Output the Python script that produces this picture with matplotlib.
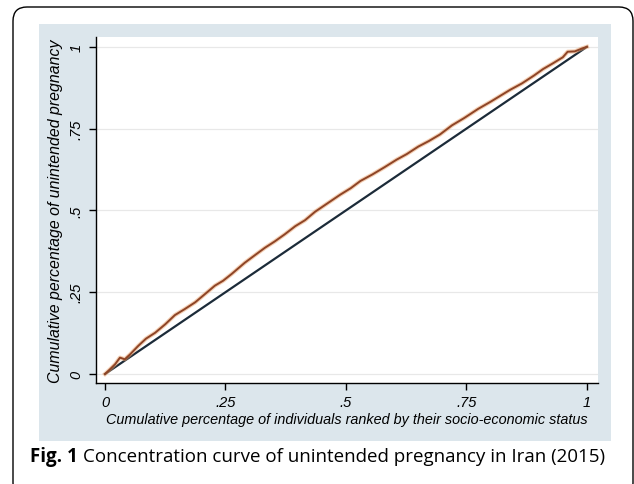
import matplotlib.pyplot as plt
from matplotlib.patches import FancyBboxPatch, Rectangle

# concentration curve
rank = [0.000, 0.010, 0.021, 0.031, 0.041, 0.052, 0.069, 0.085, 0.104, 0.125,
        0.145, 0.165, 0.187, 0.208, 0.228, 0.245, 0.263, 0.290, 0.310, 0.332,
        0.352, 0.373, 0.395, 0.415, 0.436, 0.460, 0.488, 0.510, 0.530, 0.555,
        0.580, 0.605, 0.626, 0.650, 0.672, 0.695, 0.720, 0.745, 0.774, 0.800,
        0.820, 0.840, 0.865, 0.890, 0.909, 0.930, 0.950, 0.960, 0.975, 0.990,
        1.000]
cum_preg = [0.000, 0.014, 0.030, 0.050, 0.045, 0.060, 0.086, 0.108, 0.126, 0.152,
            0.180, 0.198, 0.219, 0.245, 0.270, 0.285, 0.306, 0.340, 0.362, 0.386,
            0.405, 0.427, 0.452, 0.470, 0.496, 0.520, 0.548, 0.568, 0.590, 0.610,
            0.632, 0.655, 0.672, 0.695, 0.712, 0.732, 0.760, 0.782, 0.810, 0.832,
            0.850, 0.868, 0.888, 0.912, 0.932, 0.950, 0.968, 0.985, 0.986, 0.995,
            1.000]

# line of equality
eq_x = [0, 1]
eq_y = [0, 1]

ticks = [0, 0.25, 0.5, 0.75, 1]
tick_labels = ['0', '.25', '.5', '.75', '1']

W, H = 634, 485
fig = plt.figure(figsize=(W / 100, H / 100), dpi=100)

# background layer in pixel units
bg = fig.add_axes([0, 0, 1, 1])
bg.set_xlim(0, W)
bg.set_ylim(H, 0)
bg.axis('off')
bg.add_patch(FancyBboxPatch((13, 8), 620, 490, boxstyle='round,pad=0,rounding_size=14',
                            fc='white', ec='black', lw=1.0))
bg.add_patch(Rectangle((39, 25), 572, 417, fc='#dce6ec', ec='none'))

ax = fig.add_axes([96 / W, 1 - 384 / H, (598 - 96) / W, (384 - 38) / H])
ax.set_facecolor('white')
ax.set_xlim(-0.0187, 1.023)
ax.set_ylim(-0.0275, 1.03)

ax.plot(eq_x, eq_y, color='#1c2b39', lw=1.6, zorder=3)
ax.plot(rank, cum_preg, color='#e9a06a', lw=3.0, alpha=0.5, zorder=4)
ax.plot(rank, cum_preg, color='#8e4426', lw=1.4, zorder=5)

ax.set_yticks(ticks)
ax.set_xticks(ticks)
tfont = dict(family='Liberation Sans', style='italic', size=10.5)
ax.set_xticklabels(tick_labels, fontdict=tfont)
ax.set_yticklabels(tick_labels, fontdict=tfont, rotation=90, va='center')
ax.tick_params(direction='out', length=5, width=1, color='black', pad=4)
ax.grid(axis='y', color='#e8e8e8', lw=0.9)
ax.set_axisbelow(True)
for s in ['top', 'right']:
    ax.spines[s].set_visible(False)
for s in ['left', 'bottom']:
    ax.spines[s].set_linewidth(1.0)

ax.set_xlabel('Cumulative percentage of individuals ranked by their socio-economic status',
              family='Liberation Sans', style='italic', size=10.4, labelpad=2)
ax.set_ylabel('Cumulative percentage of unintended pregnancy',
              family='Liberation Sans', style='italic', size=11.4, labelpad=5)

# caption
t1 = bg.text(30, 457, 'Fig. 1', family='Open Sans', weight='bold', size=13.5, va='center')
fig.canvas.draw()
bb = t1.get_window_extent()
x2 = bg.transData.inverted().transform((bb.x1, bb.y0))[0]
bg.text(x2 + 5, 457, 'Concentration curve of unintended pregnancy in Iran (2015)',
        family='Open Sans', size=13.5, va='center')

fig.savefig('out.png', dpi=100)
